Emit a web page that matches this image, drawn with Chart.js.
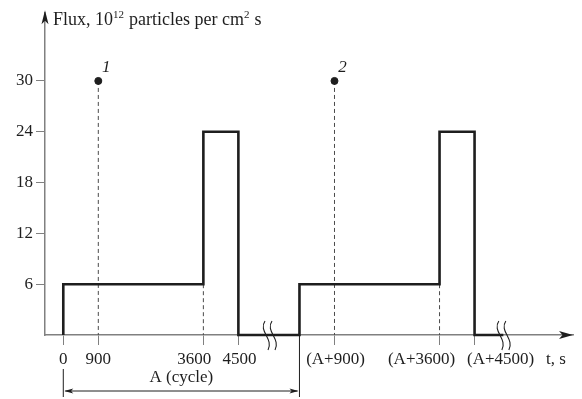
<!DOCTYPE html>
<html>
<head>
<meta charset="utf-8">
<script src="https://cdn.jsdelivr.net/npm/chart.js@4"></script>
<style>
  html, body { margin: 0; padding: 0; background: #fff; }
  #wrap { width: 582px; height: 399px; }
</style>
</head>
<body>
<div id="wrap"><canvas id="chart" width="582" height="399"></canvas></div>
<script>
// where "A" (one full cycle) sits on the time axis
const A = 6070;

// flux profile (step changes)
const stepTimes = [0, 0, 3600, 4500, A, A + 3600, A + 4500, A + 5240];
const stepFlux  = [0, 6, 24, 0, 6, 24, 0, 0];

// sample points 1 and 2
const markTimes  = [900, A + 900];
const markFlux   = [30, 30];
const markLabels = ['1', '2'];

// dashed guides down to the axis
const guideTimes = [900, 3600, A + 900, A + 3600];
const guideTops  = [30, 6, 30, 6];

// axes
const yTicks = [6, 12, 18, 24, 30];
const xTicks = [0, 900, 3600, 4500, A + 900, A + 3600, A + 4500];
const xTickLabels = ['0', '900', '3600', '4500', '(A+900)', '(A+3600)', '(A+4500)'];
const breakTimes = [5300, A + 5240];

const FONT = "'Liberation Serif', 'Times New Roman', serif";
const INK = '#1e1e1e';
const AXIS = '#808080';

// ── datasets ──
const datasets = [{
  label: 'flux',
  data: stepTimes.map((t, i) => ({ x: t, y: stepFlux[i] })),
  stepped: true,
  borderColor: INK,
  borderWidth: 2.6,
  borderJoinStyle: 'miter',
  pointRadius: 0,
  fill: false,
  clip: false
}, {
  label: 'marks',
  data: markTimes.map((t, i) => ({ x: t, y: markFlux[i] })),
  showLine: false,
  pointRadius: 3.5,
  pointBackgroundColor: INK,
  pointBorderColor: INK,
  clip: false
}];

guideTimes.forEach((t, i) => {
  datasets.push({
    label: 'guide' + i,
    data: [{ x: t, y: guideTops[i] }, { x: t, y: 0 }],
    borderColor: '#4a4a4a',
    borderWidth: 1,
    borderDash: [4, 3],
    pointRadius: 0,
    clip: false
  });
});

// ── label nudges so the crowded labels don't collide ──
const labelShift = [0, 0, -9, 1, 1, -18, 26];

function arrowHead(ctx, x, y, dir, len, half) {
  // dir: 'up' | 'right' | 'left'
  ctx.beginPath();
  if (dir === 'up') {
    ctx.moveTo(x, y);
    ctx.lineTo(x - half, y + len);
    ctx.lineTo(x, y + len * 0.75);
    ctx.lineTo(x + half, y + len);
  } else if (dir === 'right') {
    ctx.moveTo(x, y);
    ctx.lineTo(x - len, y - half);
    ctx.lineTo(x - len * 0.75, y);
    ctx.lineTo(x - len, y + half);
  } else {
    ctx.moveTo(x, y);
    ctx.lineTo(x + len, y - half);
    ctx.lineTo(x + len * 0.75, y);
    ctx.lineTo(x + len, y + half);
  }
  ctx.closePath();
  ctx.fill();
}

const decor = {
  id: 'decor',
  afterDatasetsDraw(chart) {
    const { ctx, chartArea: ca, scales: { x, y } } = chart;
    const y0 = y.getPixelForValue(0);
    ctx.save();
    ctx.fillStyle = INK;
    ctx.strokeStyle = INK;

    // axis arrows
    arrowHead(ctx, ca.left, ca.top - 3, 'up', 14, 3.5);
    arrowHead(ctx, ca.right, y0, 'right', 14, 4);

    // axis breaks
    ctx.lineWidth = 1.1;
    breakTimes.forEach(t => {
      const bx = x.getPixelForValue(t);
      [-3.5, 3.5].forEach(d => {
        const cx = bx + d;
        ctx.beginPath();
        ctx.moveTo(cx - 1, y0 - 14);
        ctx.bezierCurveTo(cx - 8, y0 - 4, cx + 8, y0 + 4, cx + 2, y0 + 15);
        ctx.stroke();
      });
    });

    // x tick labels
    ctx.font = '17px ' + FONT;
    ctx.textAlign = 'center';
    ctx.textBaseline = 'alphabetic';
    xTicks.forEach((t, i) => {
      ctx.fillText(xTickLabels[i], x.getPixelForValue(t) + labelShift[i], y0 + 29);
    });
    ctx.fillText('t, s', 556, y0 + 29);

    // point labels
    ctx.font = 'italic 17px ' + FONT;
    markTimes.forEach((t, i) => {
      ctx.fillText(markLabels[i], x.getPixelForValue(t) + 8, y.getPixelForValue(markFlux[i]) - 9);
    });

    // cycle bracket
    const xa = x.getPixelForValue(0);
    const xb = x.getPixelForValue(A);
    ctx.lineWidth = 1;
    ctx.beginPath();
    ctx.moveTo(xa, y0 + 34); ctx.lineTo(xa, y0 + 62);
    ctx.moveTo(xb, y0);      ctx.lineTo(xb, y0 + 62);
    ctx.moveTo(xa + 2, y0 + 56); ctx.lineTo(xb - 2, y0 + 56);
    ctx.stroke();
    arrowHead(ctx, xa + 1, y0 + 56, 'left', 9, 2.5);
    arrowHead(ctx, xb - 1, y0 + 56, 'right', 9, 2.5);
    ctx.font = '17px ' + FONT;
    ctx.fillText('A (cycle)', (xa + xb) / 2, y0 + 47);

    // axis title with superscripts
    ctx.textAlign = 'left';
    let tx = ca.left + 8;
    const by = 25;
    const parts = [['Flux, 10', 0], ['12', 1], [' particles per cm', 0], ['2', 1], [' s', 0]];
    parts.forEach(([txt, sup]) => {
      ctx.font = (sup ? '11px ' : '18px ') + FONT;
      ctx.fillText(txt, tx, sup ? by - 7 : by);
      tx += ctx.measureText(txt).width + (sup ? 0.5 : 0);
    });
    ctx.restore();
  }
};

new Chart(document.getElementById('chart'), {
  type: 'line',
  data: { datasets },
  options: {
    responsive: false,
    animation: false,
    layout: { padding: { top: 12, right: 9, left: 0, bottom: 0 } },
    plugins: { legend: { display: false }, tooltip: { enabled: false } },
    scales: {
      x: {
        type: 'linear',
        min: -470,
        max: 13100,
        afterFit: s => { s.height = 64; },
        afterBuildTicks: s => { s.ticks = xTicks.map(v => ({ value: v })); },
        ticks: { display: false },
        grid: { drawOnChartArea: false, drawTicks: true, tickLength: 10, color: AXIS, lineWidth: 1 },
        border: { color: AXIS, width: 1.5 }
      },
      y: {
        min: 0,
        max: 38,
        afterFit: s => { s.width = 45; },
        afterBuildTicks: s => { s.ticks = yTicks.map(v => ({ value: v })); },
        ticks: { color: INK, padding: 3, font: { family: FONT, size: 17 } },
        grid: { drawOnChartArea: false, drawTicks: true, tickLength: 9, color: AXIS, lineWidth: 1 },
        border: { color: AXIS, width: 1.5 }
      }
    }
  },
  plugins: [decor]
});
</script>
</body>
</html>
